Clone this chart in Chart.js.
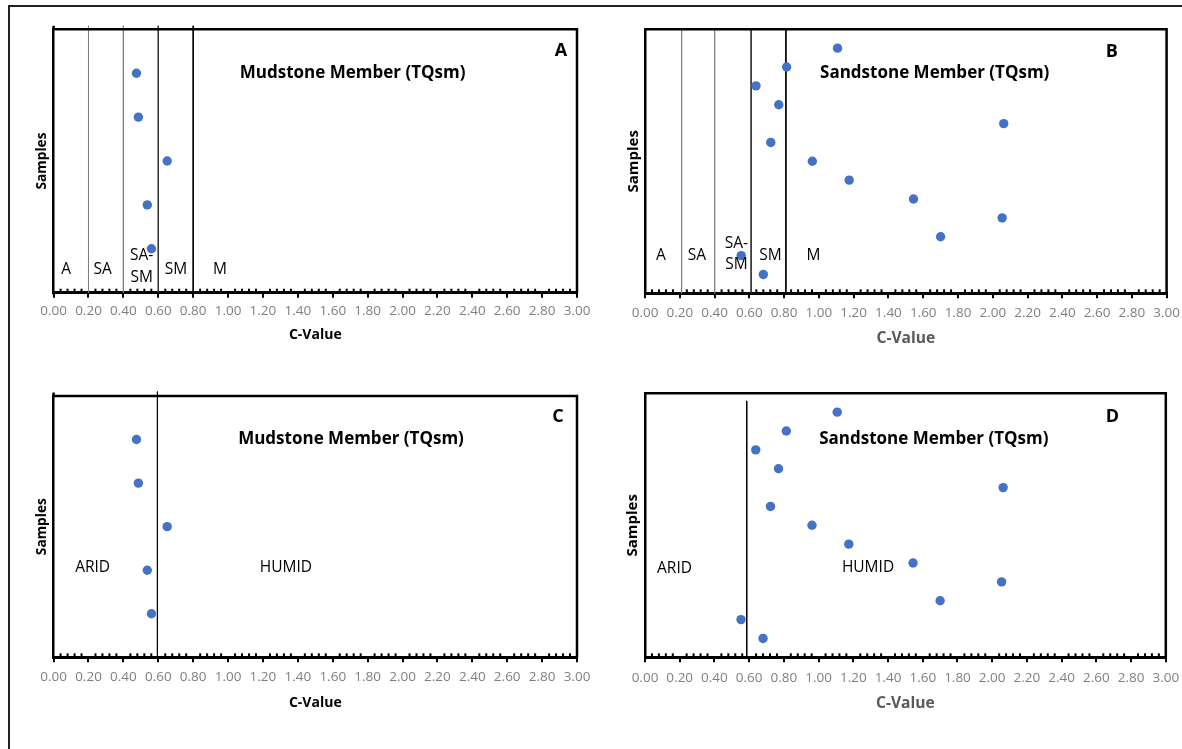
<!DOCTYPE html>
<html lang="en">
<head>
    <meta charset="UTF-8">
    <title>C-Value plots, Mudstone and Sandstone Members (TQsm)</title>
    <script src="https://cdn.jsdelivr.net/npm/chart.js"></script>
    <style>
        body {
            margin: 0;
            background: #fff;
            font-family: 'Open Sans', sans-serif;
            overflow: hidden;
        }
        #frame {
            position: absolute;
            left: 8px;
            top: 5px;
            width: 1300px;
            height: 900px;
            border: 2px solid #222;
        }
        canvas {
            position: absolute;
        }
    </style>
</head>
<body>
<div id="frame"></div>
<canvas id="chartA" width="600" height="370" style="left:0;top:0"></canvas>
<canvas id="chartB" width="592" height="370" style="left:590px;top:0"></canvas>
<canvas id="chartC" width="600" height="379" style="left:0;top:370px"></canvas>
<canvas id="chartD" width="592" height="379" style="left:590px;top:370px"></canvas>

<script>
    // data
    const xTickLabels = ['0.00', '0.20', '0.40', '0.60', '0.80', '1.00', '1.20', '1.40',
        '1.60', '1.80', '2.00', '2.20', '2.40', '2.60', '2.80', '3.00'];

    const mudstoneC = [0.475, 0.486, 0.651, 0.537, 0.561];
    const mudstoneSample = [5, 4, 3, 2, 1];

    const sandstoneC = [1.107, 0.814, 0.638, 0.769, 2.063, 0.723, 0.962, 1.174, 1.544, 2.054, 1.700, 0.553, 0.680];
    const sandstoneSample = [13, 12, 11, 10, 9, 8, 7, 6, 5, 4, 3, 2, 1];

    // climate zone boundaries (A | SA | SA-SM | SM | M)
    const mudstoneZones = [0.2, 0.4, 0.6, 0.8];
    const sandstoneZones = [0.21, 0.40, 0.61, 0.81];
    const zoneColors = ['#808080', '#808080', '#333333', '#000000'];

    // arid / humid boundary
    const mudstoneAridHumid = [0.595];
    const sandstoneAridHumid = [0.586];

    const FONT = "'Open Sans', sans-serif";

    function boundaryLines(values, colors, yTop) {
        return values.map((v, i) => ({
            type: 'line',
            data: [{x: v, y: yTop}, {x: v, y: 0}],
            borderColor: colors[i],
            borderWidth: 1,
            pointRadius: 0,
            clip: false
        }));
    }

    // draws the rest of the frame, minor ticks and the in-plot text
    function panelPlugin(p) {
        return {
            id: 'panelDecor',
            afterDraw(chart) {
                const ctx = chart.ctx;
                const a = chart.chartArea;
                const xs = chart.scales.x;
                ctx.save();
                ctx.strokeStyle = '#000';
                ctx.lineWidth = 2.5;
                ctx.beginPath();
                ctx.moveTo(a.left - 1, a.top);
                ctx.lineTo(a.right, a.top);
                ctx.lineTo(a.right, a.bottom);
                ctx.stroke();
                if (p.leftExt) {
                    ctx.beginPath();
                    ctx.moveTo(a.left, a.top - p.leftExt);
                    ctx.lineTo(a.left, a.top);
                    ctx.stroke();
                }
                // minor ticks
                ctx.lineWidth = 2;
                for (let i = 1; i < 75; i++) {
                    if (i % 5 === 0) continue;
                    const px = xs.getPixelForValue(i * 0.04);
                    ctx.beginPath();
                    ctx.moveTo(px, a.bottom);
                    ctx.lineTo(px, a.bottom - 4);
                    ctx.stroke();
                }
                ctx.textAlign = 'center';
                ctx.textBaseline = 'middle';
                ctx.fillStyle = '#000';
                ctx.font = 'bold 18px ' + FONT;
                ctx.fillText(p.letter, p.letterPos[0], p.letterPos[1]);
                ctx.font = 'bold 17px ' + FONT;
                ctx.fillText(p.title, p.titlePos[0], p.titlePos[1]);
                ctx.font = '15.5px ' + FONT;
                p.labels.forEach(l => ctx.fillText(l[0], l[1], l[2]));
                ctx.restore();
            }
        };
    }

    function makePanel(id, p) {
        const canvas = document.getElementById(id);
        const W = canvas.width, H = canvas.height;
        const a = p.area;
        const tickLH = 13.5 * 1.2;
        const xTitleLH = p.xTitleSize * 1.2;
        const yTitleLH = p.yTitleSize * 1.2;
        const xBoxBottom = p.xTitleY + xTitleLH / 2;
        const padLeft = p.yTitleX - yTitleLH / 2;

        const datasets = [{
            type: 'scatter',
            data: p.cValues.map((c, i) => ({x: c, y: p.samples[i]})),
            backgroundColor: '#4472C4',
            borderWidth: 0,
            pointRadius: 4.7,
            pointHoverRadius: 4.7
        }].concat(boundaryLines(p.zones, p.zoneColors, p.lineTop));

        new Chart(canvas, {
            type: 'scatter',
            data: {datasets: datasets},
            options: {
                responsive: false,
                animation: false,
                devicePixelRatio: 1,
                layout: {
                    padding: {left: padLeft, top: a.top, right: W - a.right, bottom: H - xBoxBottom}
                },
                plugins: {legend: {display: false}, tooltip: {enabled: false}},
                scales: {
                    x: {
                        type: 'linear',
                        min: 0,
                        max: 3,
                        ticks: {
                            stepSize: 0.2,
                            autoSkip: false,
                            maxRotation: 0,
                            color: '#7f7f7f',
                            font: {family: FONT, size: 13.5},
                            padding: p.tickY - a.bottom - 5 - tickLH / 2,
                            callback: (v, i) => xTickLabels[i]
                        },
                        grid: {drawOnChartArea: false, drawTicks: true, tickLength: 5, color: '#000', lineWidth: 2},
                        border: {display: true, color: '#000', width: 3},
                        title: {
                            display: true,
                            text: 'C-Value',
                            color: p.xTitleColor,
                            font: {family: FONT, size: p.xTitleSize, weight: 'bold'},
                            padding: 0
                        },
                        afterFit(s) {
                            s.height = xBoxBottom - a.bottom;
                            s.paddingLeft = 0;
                            s.paddingRight = 0;
                        }
                    },
                    y: {
                        type: 'linear',
                        min: 0,
                        max: p.yMax,
                        ticks: {display: false},
                        grid: {display: false, drawTicks: false},
                        border: {display: true, color: '#000', width: 2.5},
                        title: {
                            display: true,
                            text: 'Samples',
                            color: '#000',
                            font: {family: FONT, size: p.yTitleSize, weight: 'bold'},
                            padding: 0
                        },
                        afterFit(s) {
                            s.width = a.left - padLeft;
                            s.paddingTop = 0;
                            s.paddingBottom = 0;
                        }
                    }
                }
            },
            plugins: [panelPlugin(p)]
        });
    }

    makePanel('chartA', {
        area: {left: 53.6, right: 577, top: 29.3, bottom: 292.7},
        cValues: mudstoneC, samples: mudstoneSample, yMax: 6,
        zones: mudstoneZones, zoneColors: zoneColors, lineTop: 6.08, leftExt: 3.5,
        tickY: 311, xTitleY: 335, xTitleSize: 14, xTitleColor: '#000',
        yTitleX: 42, yTitleSize: 13.7,
        letter: 'A', letterPos: [561, 51],
        title: 'Mudstone Member (TQsm)', titlePos: [352.6, 72.7],
        labels: [['A', 66.2, 269.3], ['SA', 102.6, 269.3], ['SA-', 141.6, 256], ['SM', 141.6, 277.7],
            ['SM', 176, 269.3], ['M', 220, 269.3]]
    });

    makePanel('chartB', {
        area: {left: 55.1, right: 576.6, top: 29.3, bottom: 293.3},
        cValues: sandstoneC, samples: sandstoneSample, yMax: 14,
        zones: sandstoneZones, zoneColors: zoneColors, lineTop: 14, leftExt: 0,
        tickY: 313.3, xTitleY: 339, xTitleSize: 15.6, xTitleColor: '#595959',
        yTitleX: 43.4, yTitleSize: 15,
        letter: 'B', letterPos: [521.9, 52.3],
        title: 'Sandstone Member (TQsm)', titlePos: [344.7, 73.3],
        labels: [['A', 71, 256], ['SA', 107, 256], ['SA-', 146.4, 243.3], ['SM', 146.4, 265],
            ['SM', 180.4, 256], ['M', 223.4, 256]]
    });

    makePanel('chartC', {
        area: {left: 53.6, right: 577, top: 26, bottom: 287.3},
        cValues: mudstoneC, samples: mudstoneSample, yMax: 6,
        zones: mudstoneAridHumid, zoneColors: ['#000'], lineTop: 6.1, leftExt: 3.5,
        tickY: 307.3, xTitleY: 332.7, xTitleSize: 14, xTitleColor: '#000',
        yTitleX: 42, yTitleSize: 13.7,
        letter: 'C', letterPos: [558, 47.3],
        title: 'Mudstone Member (TQsm)', titlePos: [351, 69.3],
        labels: [['ARID', 92.6, 198], ['HUMID', 285.9, 198]]
    });

    makePanel('chartD', {
        area: {left: 55, right: 575.8, top: 23.3, bottom: 287.3},
        cValues: sandstoneC, samples: sandstoneSample, yMax: 14,
        zones: sandstoneAridHumid, zoneColors: ['#000'], lineTop: 13.6, leftExt: 0,
        tickY: 308.3, xTitleY: 333.3, xTitleSize: 15.6, xTitleColor: '#595959',
        yTitleX: 42.6, yTitleSize: 15,
        letter: 'D', letterPos: [522.3, 47.3],
        title: 'Sandstone Member (TQsm)', titlePos: [343.8, 69],
        labels: [['ARID', 84.5, 198.3], ['HUMID', 278, 198]]
    });
</script>
</body>
</html>
